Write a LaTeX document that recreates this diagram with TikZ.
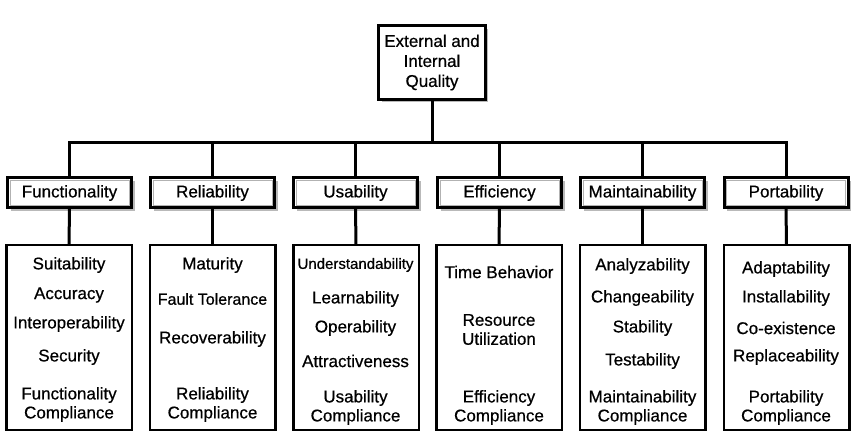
\documentclass[tikz,border=0pt]{standalone}
\usepackage{fontspec}
\setmainfont{Liberation Sans}[FakeBold=0.6]
\usetikzlibrary{shadows}

\tikzset{
	shadowed/.style={drop shadow={shadow xshift=3pt,shadow yshift=-3pt,fill=gray,opacity=0.55}},
	topbox/.style={draw,line width=3pt,fill=white,shadowed,inner sep=0,outer sep=0,minimum width=106.5pt,minimum height=73.5pt,align=center,font=\fontsize{17}{20}\selectfont},
	catbox/.style={draw,line width=3pt,fill=white,shadowed,inner sep=0,outer sep=0,minimum width=124pt,minimum height=30pt,font=\fontsize{17}{20}\selectfont,
		path picture={\draw[gray!60,line width=1pt] ([shift={(2.5pt,-2.5pt)}]path picture bounding box.north west) rectangle ([shift={(-2.5pt,2.5pt)}]path picture bounding box.south east);}},
	subbox/.style={draw,line width=2.5pt,fill=white,inner sep=0,outer sep=0,minimum width=125.5pt,minimum height=184.5pt},
	item/.style={inner sep=0,align=center,font=\fontsize{17}{19}\selectfont},
	link/.style={line width=3pt},
}

\begin{document}
\begin{tikzpicture}[x=1pt,y=-1pt]
	\useasboundingbox (0,0) rectangle (861,443);
	% top of the tree
	\node[topbox] (top) at (432,62.5) {External and\\Internal\\Quality};
	% characteristics
	\node[catbox] (fun) at (69.5,193) {Functionality};
	\node[catbox] (rel) at (212.5,193) {Reliability};
	\node[catbox] (usa) at (355.5,193) {Usability};
	\node[catbox] (eff) at (499.5,193) {Efficiency};
	\node[catbox] (mai) at (642.5,193) {Maintainability};
	\node[catbox] (por) at (786,193) {Portability};
	% sub-characteristics
	\node[subbox] (funsub) at (69,337.5) {};
	\node[subbox] (relsub) at (212.5,337.5) {};
	\node[subbox] (usasub) at (356,337.5) {};
	\node[subbox] (effsub) at (499,337.5) {};
	\node[subbox] (maisub) at (642.5,337.5) {};
	\node[subbox] (porsub) at (786.5,337.5) {};
	\node[item] (f1) at (69,265) {Suitability};
	\node[item] (f2) at (69,295) {Accuracy};
	\node[item] (f3) at (69,324) {Interoperability};
	\node[item] (f4) at (69,357) {Security};
	\node[item] (f5) at (69,404.5) {Functionality\\Compliance};
	\node[item] (r1) at (212.5,265) {Maturity};
	\node[item,font=\fontsize{16}{19}\selectfont] (r2) at (212.5,299) {Fault Tolerance};
	\node[item] (r3) at (212.5,339) {Recoverability};
	\node[item] (r4) at (212.5,404.5) {Reliability\\Compliance};
	\node[item,font=\fontsize{15}{19}\selectfont] (u1) at (355.5,265) {Understandability};
	\node[item] (u2) at (355.5,299) {Learnability};
	\node[item] (u3) at (355.5,328) {Operability};
	\node[item] (u4) at (355.5,361) {Attractiveness};
	\node[item] (u5) at (355.5,407.5) {Usability\\Compliance};
	\node[item] (e1) at (499,272) {Time Behavior};
	\node[item] (e2) at (499,329.5) {Resource\\Utilization};
	\node[item] (e3) at (499,407.5) {Efficiency\\Compliance};
	\node[item] (m1) at (642.5,266) {Analyzability};
	\node[item] (m2) at (642.5,298) {Changeability};
	\node[item] (m3) at (642.5,328) {Stability};
	\node[item] (m4) at (642.5,361) {Testability};
	\node[item] (m5) at (642.5,407.5) {Maintainability\\Compliance};
	\node[item] (p1) at (786,269) {Adaptability};
	\node[item] (p2) at (786,298) {Installability};
	\node[item] (p3) at (786,328) {Co-existence};
	\node[item] (p4) at (786,357) {Replaceability};
	\node[item] (p5) at (786,407.5) {Portability\\Compliance};
	% connectors
	\coordinate (bus) at (432,143);
	\draw[link] (top.south) -- (bus);
	\draw[link] (fun.north) |- (bus) -| (por.north);
	\draw[link] (rel.north) -- (rel.north |- bus);
	\draw[link] (usa.north) -- (usa.north |- bus);
	\draw[link] (eff.north) -- (eff.north |- bus);
	\draw[link] (mai.north) -- (mai.north |- bus);
	\draw[link] (fun.south) -- (funsub.north);
	\draw[link] (rel.south) -- (relsub.north);
	\draw[link] (usa.south) -- (usasub.north);
	\draw[link] (eff.south) -- (effsub.north);
	\draw[link] (mai.south) -- (maisub.north);
	\draw[link] (por.south) -- (porsub.north);
\end{tikzpicture}
\end{document}
